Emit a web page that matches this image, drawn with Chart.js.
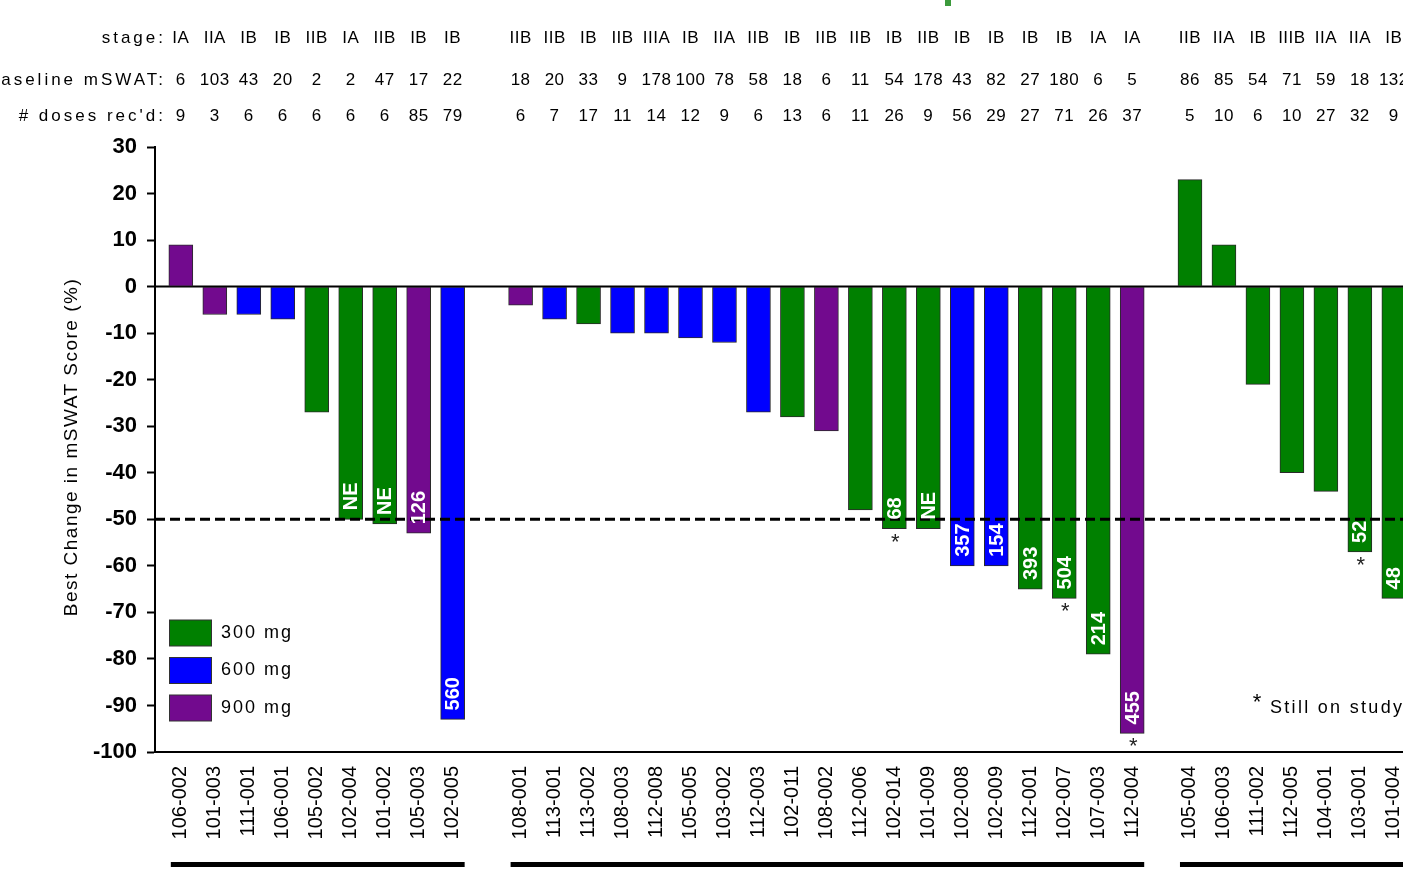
<!DOCTYPE html>
<html><head><meta charset="utf-8">
<script src="https://cdn.jsdelivr.net/npm/chart.js@4.4.1/dist/chart.umd.min.js"></script>
<style>html,body{margin:0;padding:0;background:#fff;overflow:hidden;width:1403px;height:869px}canvas{display:block}</style>
</head><body><canvas id="c" width="1460" height="869"></canvas>
<script>
// ---------- data ----------
const patientIds = ['106-002','101-003','111-001','106-001','105-002','102-004','101-002','105-003','102-005',
 '108-001','113-001','113-002','108-003','112-008','105-005','103-002','112-003','102-011','108-002','112-006','102-014','101-009','102-008','102-009','112-001','102-007','107-003','112-004',
 '105-004','106-003','111-002','112-005','104-001','103-001','101-004'];
const bestChange = [9,-6,-6,-7,-27,-50,-51,-53,-93,
 -4,-7,-8,-10,-10,-11,-12,-27,-28,-31,-48,-52,-52,-60,-60,-65,-67,-79,-96,
 23,9,-21,-40,-44,-57,-67];
const doseMg = [900,900,600,600,300,300,300,900,600,
 900,600,300,600,600,600,600,600,300,900,300,300,300,600,600,300,300,300,900,
 300,300,300,300,300,300,300];
const stages = ['IA','IIA','IB','IB','IIB','IA','IIB','IB','IB',
 'IIB','IIB','IB','IIB','IIIA','IB','IIA','IIB','IB','IIB','IIB','IB','IIB','IB','IB','IB','IB','IA','IA',
 'IIB','IIA','IB','IIIB','IIA','IIA','IB'];
const baselineMswat = [6,103,43,20,2,2,47,17,22,
 18,20,33,9,178,100,78,58,18,6,11,54,178,43,82,27,180,6,5,
 86,85,54,71,59,18,132];
const dosesReceived = [9,3,6,6,6,6,6,85,79,
 6,7,17,11,14,12,9,6,13,6,11,26,9,56,29,27,71,26,37,
 5,10,6,10,27,32,9];
const barLabels = ['','','','','','NE','NE','126','560',
 '','','','','','','','','','','','68','NE','357','154','393','504','214','455',
 '','','','','','52','48'];
const stillOnStudy = ['102-014','102-007','112-004','103-001'];
const groupSizes = [9,19,7];
const doseLevels = [300,600,900];
const doseNames = ['300 mg','600 mg','900 mg'];
const yTicks = [30,20,10,0,-10,-20,-30,-40,-50,-60,-70,-80,-90,-100];
const responseThreshold = -50;
const headerRowNames = ['stage:','Baseline mSWAT:','# doses rec\'d:'];
const noteText = 'Still on study';

// ---------- layout / style ----------
const groupGaps = [2, 1.7];           // slot distance between groups
const doseColors = {300:'#008000',600:'#0000ff',900:'#720a8e'};
const FONT = "'Liberation Sans', Arial, sans-serif";

const positions = [];
(function(){ let p=0; groupSizes.forEach((n,g)=>{ for(let k=0;k<n;k++){positions.push(p);p+=1;} if(g<groupGaps.length) p+=groupGaps[g]-1; }); })();

const datasets = doseLevels.map((d,j)=>({
  label: doseNames[j],
  data: positions.map((x,i)=>({x, y: bestChange[i], i})).filter(o=>doseMg[o.i]===d),
  backgroundColor: doseColors[d],
  borderColor: '#2a2a2a',
  borderWidth: 1,
  borderSkipped: false,
  barThickness: 24,
  grouped: false
}));

function txt(ctx, s, x, y, font, align, base, spacing, color){
  ctx.save(); ctx.font = font; ctx.textAlign = align; ctx.textBaseline = base;
  ctx.letterSpacing = (spacing||0)+'px'; ctx.fillStyle = color||'#000';
  ctx.fillText(s, x, y); ctx.restore();
}

const overlay = {
  id:'overlay',
  beforeDatasetsDraw(chart){
    const {ctx, chartArea:a, scales:{y}} = chart;
    const y0 = y.getPixelForValue(0);
    ctx.save(); ctx.strokeStyle='#000'; ctx.lineWidth=2;
    ctx.beginPath(); ctx.moveTo(a.left,y0); ctx.lineTo(a.right,y0); ctx.stroke(); ctx.restore();
  },
  afterDatasetsDraw(chart){
    const {ctx, chartArea:a, scales:{x,y}} = chart;
    const yt = y.getPixelForValue(responseThreshold);
    ctx.save(); ctx.strokeStyle='#000'; ctx.lineWidth=3; ctx.setLineDash([10,5]);
    ctx.beginPath(); ctx.moveTo(a.left,yt); ctx.lineTo(a.right,yt); ctx.stroke(); ctx.restore();
    // in-bar labels
    positions.forEach((p,i)=>{
      const px = x.getPixelForValue(p), pb = y.getPixelForValue(bestChange[i]);
      if (barLabels[i]) {
        ctx.save(); ctx.translate(px, pb-9); ctx.rotate(-Math.PI/2);
        ctx.font = 'bold 20px '+FONT; ctx.fillStyle='#fff'; ctx.textAlign='left'; ctx.textBaseline='middle';
        ctx.fillText(barLabels[i], 0, 1); ctx.restore();
      }
      if (stillOnStudy.includes(patientIds[i])) {
        txt(ctx,'*',px+1,pb+3,'22px '+FONT,'center','top',0,'#222');
      }
    });
  },
  afterDraw(chart){
    const {ctx, chartArea:a, scales:{x,y}} = chart;
    // header rows
    const rowsY = [38,80,116];
    const rows = [stages, baselineMswat, dosesReceived];
    headerRowNames.forEach((n,r)=>{
      txt(ctx,n,166,rowsY[r],'17px '+FONT,'right','middle',3,'#000');
      rows[r].forEach((v,i)=> txt(ctx,String(v),x.getPixelForValue(positions[i]),rowsY[r],'17px '+FONT,'center','middle',0.5,'#000'));
    });
    // y title
    ctx.save(); ctx.translate(72,447); ctx.rotate(-Math.PI/2);
    ctx.font='19px '+FONT; ctx.letterSpacing='1.5px'; ctx.fillStyle='#000'; ctx.textAlign='center'; ctx.textBaseline='middle';
    ctx.fillText('Best Change in mSWAT Score (%)',0,0); ctx.restore();
    // legend
    chart.data.datasets.forEach((ds,j)=>{
      const ty = 633 + j*37.5;
      ctx.save(); ctx.fillStyle=ds.backgroundColor; ctx.strokeStyle='#333'; ctx.lineWidth=1;
      ctx.fillRect(169.5,ty-13,42,26); ctx.strokeRect(169.5,ty-13,42,26); ctx.restore();
      txt(ctx,ds.label,221,ty,'18px '+FONT,'left','middle',2,'#000');
    });
    // note
    txt(ctx,'*',1257,703,'22px '+FONT,'center','middle',0,'#000');
    txt(ctx,noteText,1270,708,'18px '+FONT,'left','middle',2.3,'#000');
    // group underlines
    let start=0;
    ctx.save(); ctx.strokeStyle='#000'; ctx.lineWidth=5;
    groupSizes.forEach(n=>{
      const x1 = x.getPixelForValue(positions[start])-10, x2 = x.getPixelForValue(positions[start+n-1])+12;
      ctx.beginPath(); ctx.moveTo(x1,864.5); ctx.lineTo(x2,864.5); ctx.stroke();
      start+=n;
    });
    ctx.restore();
    // small title accent at top
    ctx.save(); ctx.fillStyle='#3c9a3c'; ctx.fillRect(945,0,6,6); ctx.restore();
  }
};

new Chart(document.getElementById('c'), {
  type:'bar',
  data:{ datasets },
  options:{
    responsive:false, animation:false,
    layout:{ padding:{ top:147, right:5, bottom:0, left:0 } },
    plugins:{ legend:{display:false}, tooltip:{enabled:false} },
    scales:{
      x:{ type:'linear', min:-0.76, max:37.5, offset:false,
        afterFit(s){ s.height = 117; },
        afterBuildTicks(s){ s.ticks = positions.map(v=>({value:v})); },
        grid:{ drawOnChartArea:false, drawTicks:false, color:'transparent', offset:false },
        border:{ display:true, color:'#000', width:2 },
        ticks:{ autoSkip:false, minRotation:90, maxRotation:90, padding:14, color:'#000',
          font:{ family:FONT, size:20 }, callback:(v,i)=>patientIds[i] }
      },
      y:{ type:'linear', min:-100, max:30,
        afterFit(s){ s.width = 155; },
        afterBuildTicks(s){ s.ticks = yTicks.map(v=>({value:v})); },
        grid:{ drawOnChartArea:false, drawTicks:true, tickLength:8, tickColor:'#000', tickWidth:2 },
        border:{ display:true, color:'#000', width:2 },
        ticks:{ padding:10, color:'#000', font:{ family:FONT, size:22, weight:'bold' } }
      }
    }
  },
  plugins:[overlay]
});
</script></body></html>
